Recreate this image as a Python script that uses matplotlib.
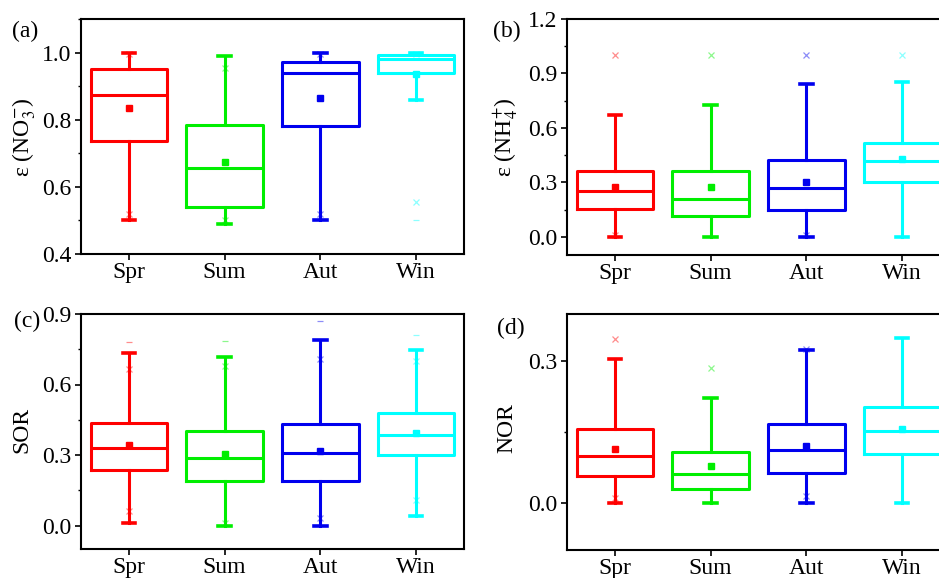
import matplotlib
matplotlib.use("Agg")
import matplotlib.pyplot as plt
from matplotlib.ticker import MultipleLocator

plt.rcParams['font.family'] = ['Liberation Serif', 'DejaVu Serif']
plt.rcParams['mathtext.fontset'] = 'stix'

seasons = ['Spr', 'Sum', 'Aut', 'Win']
colors = ['#ff0000', '#00ee00', '#0000ee', '#00ffff']

# (a) epsilon(NO3-)
a_whislo = [0.50, 0.49, 0.50, 0.86]
a_q1 = [0.736, 0.540, 0.780, 0.940]
a_med = [0.875, 0.655, 0.938, 0.982]
a_q3 = [0.952, 0.783, 0.973, 0.994]
a_whishi = [1.00, 0.99, 1.00, 1.00]
a_mean = [0.834, 0.673, 0.866, 0.935]
a_x = [[0.52, 0.995], [0.955, 0.50], [0.52, 0.995], [0.555, 0.995]]
a_dash = [[], [], [], [0.50]]

# (b) epsilon(NH4+)
b_whislo = [0.0, 0.0, 0.0, 0.0]
b_q1 = [0.155, 0.116, 0.148, 0.300]
b_med = [0.251, 0.210, 0.269, 0.419]
b_q3 = [0.361, 0.361, 0.426, 0.518]
b_whishi = [0.671, 0.724, 0.841, 0.852]
b_mean = [0.277, 0.273, 0.304, 0.430]
b_x = [[1.0, 0.01], [1.0], [1.0, 0.01], [1.0]]
b_dash = [[], [], [], []]

# (c) SOR
c_whislo = [0.011, 0.0, 0.0, 0.040]
c_q1 = [0.235, 0.191, 0.191, 0.301]
c_med = [0.328, 0.289, 0.307, 0.386]
c_q3 = [0.436, 0.403, 0.432, 0.477]
c_whishi = [0.733, 0.719, 0.788, 0.746]
c_mean = [0.341, 0.306, 0.318, 0.395]
c_x = [[0.666, 0.06], [0.68, 0.01], [0.709, 0.03], [0.70, 0.11]]
c_dash = [[0.782], [0.787], [0.869], [0.811]]

# (d) NOR
d_whislo = [0.0, 0.0, 0.0, 0.0]
d_q1 = [0.057, 0.030, 0.063, 0.104]
d_med = [0.099, 0.060, 0.112, 0.152]
d_q3 = [0.156, 0.107, 0.167, 0.203]
d_whishi = [0.305, 0.221, 0.323, 0.350]
d_mean = [0.114, 0.077, 0.121, 0.157]
d_x = [[0.346, 0.01], [0.285], [0.325, 0.014], []]
d_dash = [[], [], [], []]

W, H = 939, 578
fig = plt.figure(figsize=(W / 100, H / 100), dpi=100)


def add_axes(left, top, right, bottom):
    return fig.add_axes([left / W, 1 - bottom / H, (right - left) / W, (bottom - top) / H])


def draw(ax, whislo, q1, med, q3, whishi, mean, xs, dashes, ylim, major, minor, ylabel, tag, tagpos, ylabpos):
    for i, c in enumerate(colors):
        st = [dict(whislo=whislo[i], q1=q1[i], med=med[i], q3=q3[i], whishi=whishi[i], fliers=[])]
        lp = dict(color=c, linewidth=2.2)
        ax.bxp(st, positions=[i + 1], widths=0.8, showfliers=False,
               boxprops=lp, medianprops=lp, whiskerprops=lp,
               capprops=dict(color=c, linewidth=2.6), capwidths=0.13)
        ax.plot([i + 1], [mean[i]], 's', color=c, markersize=5)
        if xs[i]:
            ax.plot([i + 1] * len(xs[i]), xs[i], 'x', color=c, alpha=0.45, markersize=5, markeredgewidth=0.9)
        if dashes[i]:
            ax.plot([i + 1] * len(dashes[i]), dashes[i], '_', color=c, alpha=0.45, markersize=5, markeredgewidth=0.9)
    ax.set_xlim(0.5, 4.5)
    ax.set_ylim(*ylim)
    ax.set_xticks([1, 2, 3, 4])
    ax.set_xticklabels(seasons)
    ax.yaxis.set_major_locator(MultipleLocator(major))
    ax.yaxis.set_minor_locator(MultipleLocator(minor))
    ax.tick_params(axis='both', which='major', direction='out', length=4, width=1.2,
                   labelsize=17, top=False, right=False, pad=2)
    ax.tick_params(axis='y', which='major', pad=3)
    ax.tick_params(axis='y', which='minor', direction='out', length=2.5, width=1.0, right=False)
    ax.tick_params(axis='x', which='minor', bottom=False, top=False)
    for s in ax.spines.values():
        s.set_linewidth(1.5)
    ax.set_ylabel(ylabel, fontsize=17)
    ax.yaxis.set_label_coords(ylabpos[0] / W, ylabpos[1] / H, transform=fig.transFigure)
    fig.text(tagpos[0] / W, 1 - tagpos[1] / H, tag, fontsize=17, ha='left', va='center')


ax_a = add_axes(81, 19, 464, 254)
ax_b = add_axes(567, 19, 950, 255)
ax_c = add_axes(81, 314, 464, 549)
ax_d = add_axes(567, 314, 950, 550)

draw(ax_a, a_whislo, a_q1, a_med, a_q3, a_whishi, a_mean, a_x, a_dash,
     (0.4, 1.1), 0.2, 0.1, r'ε (NO$_3^{-}$)', '(a)', (12, 31), (38, 578 - 137))
draw(ax_b, b_whislo, b_q1, b_med, b_q3, b_whishi, b_mean, b_x, b_dash,
     (-0.1, 1.2), 0.3, 0.15, r'ε (NH$_4^{+}$)', '(b)', (493, 31), (520, 578 - 137))
draw(ax_c, c_whislo, c_q1, c_med, c_q3, c_whishi, c_mean, c_x, c_dash,
     (-0.1, 0.9), 0.3, 0.15, 'SOR', '(c)', (14, 321), (32, 578 - 430))
draw(ax_d, d_whislo, d_q1, d_med, d_q3, d_whishi, d_mean, d_x, d_dash,
     (-0.1, 0.4), 0.3, 0.15, 'NOR', '(d)', (497, 328), (517, 578 - 428))

fig.savefig('out.png', dpi=100)
